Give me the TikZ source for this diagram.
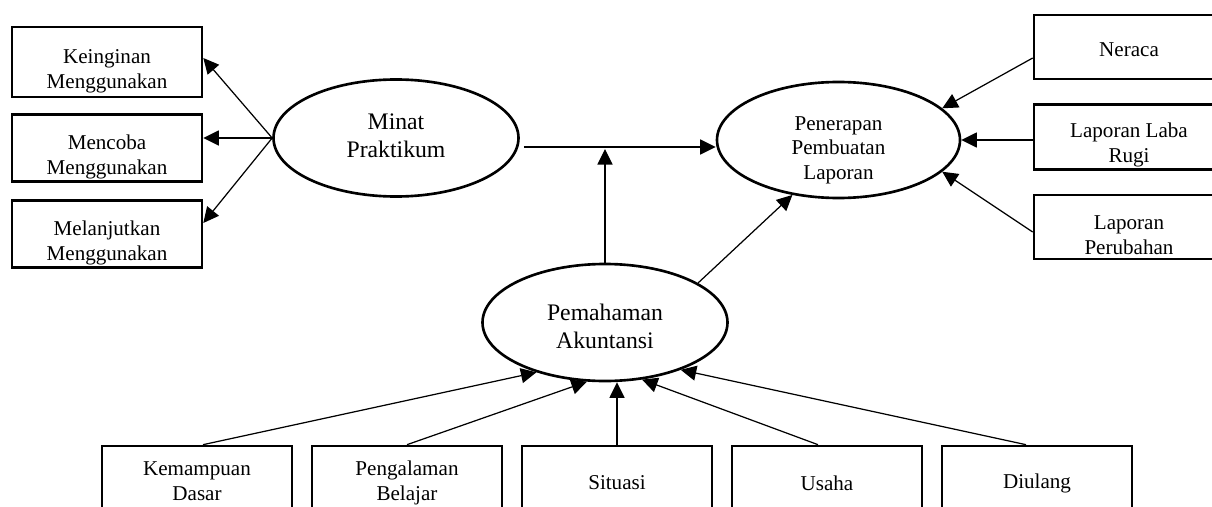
\documentclass[tikz,border=0pt]{standalone}
\usepackage{fontspec}
\setmainfont{Liberation Serif}
\usetikzlibrary{shapes.geometric, arrows.meta}
\usetikzlibrary{positioning}
\tikzset{
    indicator/.style={
           rectangle,
           draw=black, line width=1.5pt,
           inner sep=2pt,
           text centered,
           font=\fontsize{12}{14}\selectfont,
           },
    construct/.style={
           ellipse,
           draw=black, line width=1.5pt,
           inner sep=0pt,
           text centered,
           font=\fontsize{13.5}{15.8}\selectfont,
           },
}
% text of a box sits a bit low, as in the original
\newcommand{\lowtext}[2]{\raisebox{-#1}[0pt][0pt]{\begin{tabular}{c}#2\end{tabular}}}

\begin{document}
\begin{tikzpicture}[->,>={Triangle[length=0.31cm,width=0.3cm]},line width=0.7pt]
  \newlength{\boxwidth}
  \setlength{\boxwidth}{3.8cm}
  \newlength{\boxheight}
  \setlength{\boxheight}{1.34cm}
  \newlength{\ovalwidth}
  \setlength{\ovalwidth}{4.9cm}
  \newlength{\ovalheight}
  \setlength{\ovalheight}{2.34cm}

  \useasboundingbox (0,0) rectangle (24.24,10.12);

   % the three constructs (ellipses)
   \node[construct,minimum width=\ovalwidth,minimum height=\ovalheight] (MINAT) at (7.92,7.36)
   {\begin{tabular}{c}
   Minat\\
   Praktikum
   \end{tabular}};

   \node[construct,
    minimum width=4.86cm,
    minimum height=2.32cm,
    font=\fontsize{12}{14}\selectfont] (PENERAPAN) at (16.77,7.32)
   {\lowtext{0.3cm}{Penerapan\\ Pembuatan\\ Laporan}};

   \node[construct,minimum width=\ovalwidth,minimum height=\ovalheight] (PEMAHAMAN) at (12.1,3.67)
   {\lowtext{0.25cm}{Pemahaman\\ Akuntansi}};

   % indicators of Minat, stacked on the left
   \node[indicator,minimum width=\boxwidth,minimum height=1.4cm] (KEINGINAN) at (2.14,8.88)
   {\lowtext{0.29cm}{Keinginan\\ Menggunakan}};

   \node[indicator,
    below of=KEINGINAN,
    node distance=1.72cm,
    anchor=center,
    minimum width=\boxwidth,
    minimum height=\boxheight] (MENCOBA)
   {\lowtext{0.29cm}{Mencoba\\ Menggunakan}};

   \node[indicator,
    below of=MENCOBA,
    node distance=1.72cm,
    anchor=center,
    minimum width=\boxwidth,
    minimum height=\boxheight] (MELANJUTKAN)
   {\lowtext{0.29cm}{Melanjutkan\\ Menggunakan}};

   % indicators of Penerapan, stacked on the right
   \node[indicator,minimum width=\boxwidth,minimum height=1.28cm] (NERACA) at (22.58,9.18)
   {\lowtext{0.19cm}{Neraca}};

   \node[indicator,
    below of=NERACA,
    node distance=1.8cm,
    anchor=center,
    minimum width=\boxwidth,
    minimum height=1.3cm] (LABARUGI)
   {\lowtext{0.27cm}{Laporan Laba\\ Rugi}};

   \node[indicator,
    below of=LABARUGI,
    node distance=1.8cm,
    anchor=center,
    minimum width=\boxwidth,
    minimum height=1.28cm] (PERUBAHAN)
   {\lowtext{0.31cm}{Laporan\\ Perubahan}};

   % indicators of Pemahaman, in a row at the bottom
   \node[indicator,minimum width=\boxwidth,minimum height=1.48cm] (KEMAMPUAN) at (3.94,0.46)
   {\begin{tabular}{c}
   Kemampuan\\
   Dasar
   \end{tabular}};

   \node[indicator,
    right of=KEMAMPUAN,
    node distance=4.2cm,
    anchor=center,
    minimum width=\boxwidth,
    minimum height=1.48cm] (PENGALAMAN)
   {\begin{tabular}{c}
   Pengalaman\\
   Belajar
   \end{tabular}};

   \node[indicator,right of=PENGALAMAN,node distance=4.2cm,anchor=center,
    minimum width=\boxwidth,minimum height=1.48cm] (SITUASI) {Situasi};

   \node[indicator,right of=SITUASI,node distance=4.2cm,anchor=center,
    minimum width=\boxwidth,minimum height=1.48cm] (USAHA) {Usaha};

   \node[indicator,right of=USAHA,node distance=4.2cm,anchor=center,
    minimum width=\boxwidth,minimum height=1.48cm] (DIULANG) {Diulang};

   % start of the line from Minat to Penerapan
   \coordinate (LINK) at ([xshift=0.08cm,yshift=-0.18cm]MINAT.east);

   % draw the paths
   \path
   (MINAT.west) edge ([yshift=0.08cm]KEINGINAN.east)
   (MINAT.west) edge (MINAT.west -| MENCOBA.east)
   (MINAT.west) edge ([yshift=0.22cm]MELANJUTKAN.east)
   (LINK) edge (LINK -| PENERAPAN.west)
   (PEMAHAMAN.north) edge[shorten >=0.04cm] (PEMAHAMAN.north |- LINK)
   (PEMAHAMAN.23) edge (PENERAPAN.230)
   ([yshift=-0.22cm]NERACA.west) edge (PENERAPAN.17)
   (LABARUGI.west |- PENERAPAN.east) edge (PENERAPAN.east)
   ([yshift=-0.1cm]PERUBAHAN.west) edge (PENERAPAN.343)
   ([xshift=0.12cm]KEMAMPUAN.north) edge (PEMAHAMAN.216)
   (PENGALAMAN.north) edge (PEMAHAMAN.253)
   (SITUASI.north) edge (SITUASI.north |- PEMAHAMAN.south)
   ([xshift=-0.18cm]USAHA.north) edge (PEMAHAMAN.303)
   ([xshift=-0.22cm]DIULANG.north) edge (PEMAHAMAN.328);

\end{tikzpicture}
\end{document}
